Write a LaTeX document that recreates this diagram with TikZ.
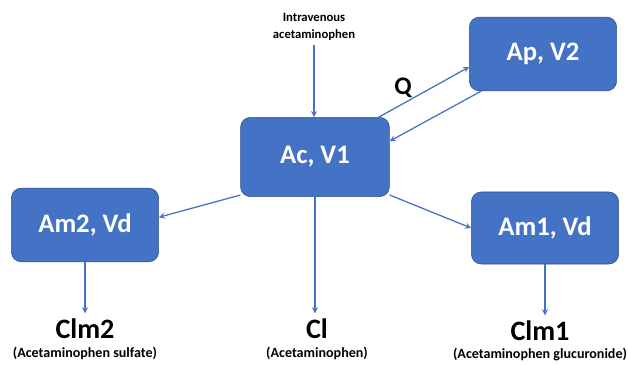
\documentclass[tikz,border=0pt]{standalone}
\usepackage{fontspec}
\setmainfont{Carlito}
\usetikzlibrary{positioning,arrows}
\definecolor{boxblue}{HTML}{4472C4}
\definecolor{boxedge}{HTML}{2F528F}
\tikzset{
     comp/.style={draw=boxedge, fill=boxblue, rounded corners=7pt, text=white,
       font=\bfseries\fontsize{19}{22}\selectfont,
       minimum width=3.68cm, minimum height=1.84cm},
      flow/.style   = {boxblue, ->, >=stealth, line width=0.9pt},
      clname/.style = {font=\bfseries\fontsize{20}{24}\selectfont, anchor=base},
      clsub/.style = {font=\bfseries\fontsize{10}{12}\selectfont, anchor=base},
    }
\begin{document}
\begin{tikzpicture}[x=0.025cm,y=-0.025cm]
        \useasboundingbox (0,0) rectangle (628,365);
        \node [comp, minimum width=3.72cm, minimum height=1.98cm] (ac) at (315,157) {Ac, V1};
        \node [comp] (ap)  at (543,54)  {Ap, V2};
        \node [comp] (am2) at (85,225)  {Am2, Vd};
        \node [comp, minimum height=1.8cm] (am1) at (545,228) {Am1, Vd};

        \node [align=center, font=\bfseries\fontsize{9}{12}\selectfont] (iv) at (314,27) {Intravenous\\acetaminophen};
        \node [font=\bfseries\fontsize{18}{22}\selectfont] (q) at (403,88) {Q};

        \node [clname] (clm2) at (85,338)  {Clm2};
        \node [clname] (cl)   at (317,338) {Cl};
        \node [clname] (clm1) at (540,340) {Clm1};
        \node [clsub] (clm2sub) at (85,357)  {(Acetaminophen sulfate)};
        \node [clsub] (clsub)   at (317,357) {(Acetaminophen)};
        \node [clsub] (clm1sub) at (540,358) {(Acetaminophen glucuronide)};

        \path[flow]
        (iv.south) edge (iv.south |- ac.north)
        (ac.32) edge (ap.190)
        (ap.211) edge (ac.12)
        (ac.207) edge (am2.6)
        (ac.-27) edge (am1.west)
        (ac.south) edge (ac.south |- cl.north)
        (am2.south) edge (clm2.north)
        (am1.south) edge (am1.south |- clm1.north);
    \end{tikzpicture}
\end{document}
